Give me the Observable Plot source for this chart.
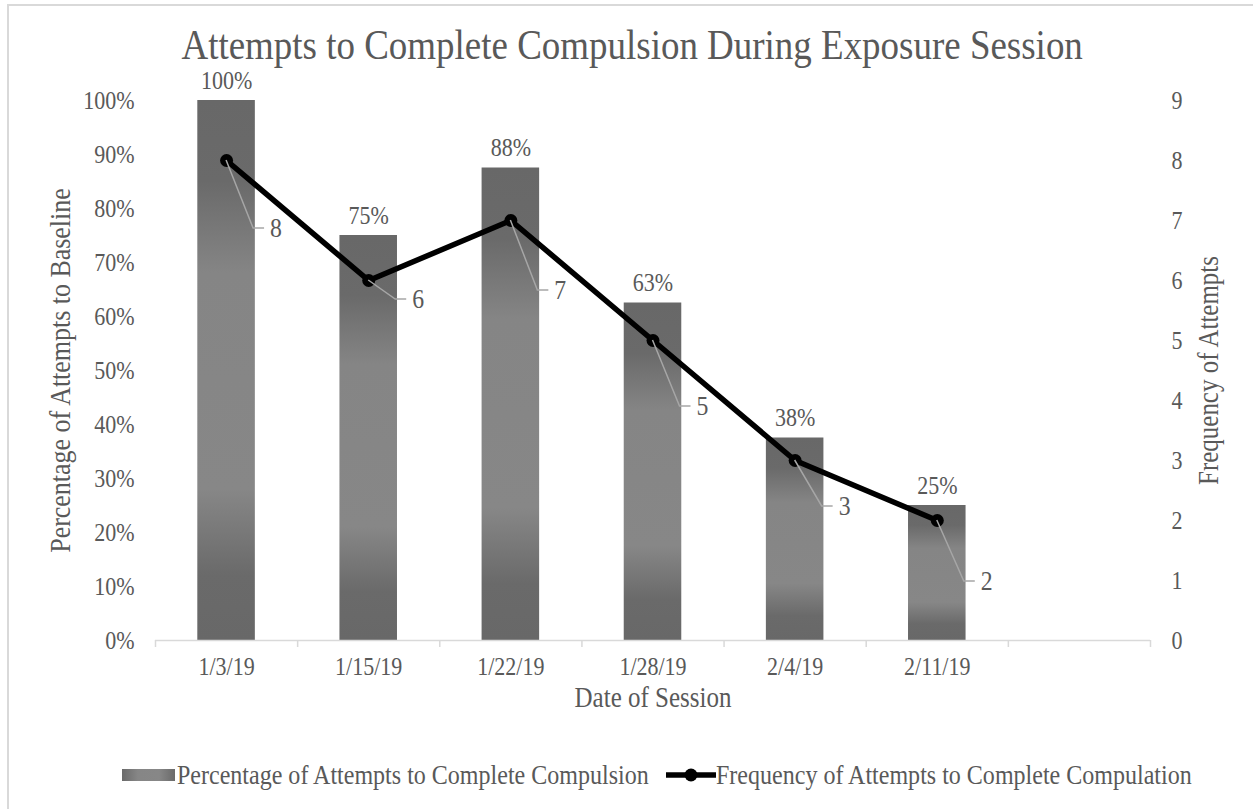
<!DOCTYPE html>
<html><head><meta charset="utf-8">
<script src="https://cdn.jsdelivr.net/npm/d3@7"></script>
<script src="https://cdn.jsdelivr.net/npm/@observablehq/plot@0.6"></script>
<style>
html,body{margin:0;padding:0;background:#fff;overflow:hidden;width:1253px;height:809px}
body{font-family:"Liberation Serif","Times New Roman",serif;color:#595959;position:relative}
#frame{position:absolute;left:7px;top:4px;width:1400px;height:1000px;border:2px solid #d9d9d9;box-sizing:border-box}
#title{position:absolute;left:6px;top:24px;width:1253px;text-align:center;font-size:42px;line-height:42px;white-space:nowrap}
#title span{display:inline-block;transform:scaleX(0.88);transform-origin:center center}
#chart{position:absolute;left:0;top:70px}
#legend{position:absolute;left:0;top:761px;height:28px;width:1253px;font-size:27.3px;line-height:28px;white-space:nowrap}
.item{position:absolute;top:0}
span.item{transform:scaleX(0.88);transform-origin:left center}
</style>
</head><body>
<div id="frame"></div>
<div id="title"><span>Attempts to Complete Compulsion During Exposure Session</span></div>
<div id="chart"></div>
<div id="legend"></div>
<script>
// ---- data ----
const sessionDates = ["1/3/19", "1/15/19", "1/22/19", "1/28/19", "2/4/19", "2/11/19"];
const percentOfBaseline = [1.00, 0.75, 0.875, 0.625, 0.375, 0.25];
const attemptFrequency = [8, 6, 7, 5, 3, 2];
const percentTicks = [0, 0.1, 0.2, 0.3, 0.4, 0.5, 0.6, 0.7, 0.8, 0.9, 1.0];
const frequencyTicks = [0, 1, 2, 3, 4, 5, 6, 7, 8, 9];
const frequencyMax = 9;
const categorySlots = 7; // Excel leaves one empty category at the end
// callout label vertical offsets (px) as placed in the original chart
const calloutOffsets = [68, 19, 70, 66, 46, 61];

const seriesNames = ["Percentage of Attempts to Complete Compulsion", "Frequency of Attempts to Complete Compulation"];

const rows = sessionDates.map((date, i) => ({date, i, pct: percentOfBaseline[i], freq: attemptFrequency[i]}));

const ns = "http://www.w3.org/2000/svg";
const textColor = "#595959";
const font = "'Liberation Serif','Times New Roman',serif";
const condense = 0.88; // the original typeface renders narrower than Liberation Serif

const defs = () => {
  const d = document.createElementNS(ns, "defs");
  d.innerHTML = `
    <linearGradient id="barGrad" x1="0" y1="0" x2="0" y2="1">
      <stop offset="0" stop-color="#686868"/>
      <stop offset="0.15" stop-color="#6a6a6a"/>
      <stop offset="0.32" stop-color="#858585"/>
      <stop offset="0.72" stop-color="#878787"/>
      <stop offset="0.88" stop-color="#6a6a6a"/>
      <stop offset="1" stop-color="#686868"/>
    </linearGradient>`;
  return d;
};

const callouts = (index, scales) => {
  const g = document.createElementNS(ns, "g");
  rows.forEach((r, k) => {
    const px = scales.x(r.i + 0.5), py = scales.y(r.freq / frequencyMax), oy = calloutOffsets[k];
    const p = document.createElementNS(ns, "path");
    p.setAttribute("d", `M${px},${py}L${px + 27},${py + oy}H${px + 38}`);
    p.setAttribute("fill", "none");
    p.setAttribute("stroke", "#a6a6a6");
    p.setAttribute("stroke-width", "1.5");
    g.appendChild(p);
    const t = document.createElementNS(ns, "text");
    t.setAttribute("x", px + 44);
    t.setAttribute("y", py + oy);
    t.setAttribute("dy", "0.35em");
    t.setAttribute("fill", textColor);
    t.setAttribute("font-size", "27");
    t.setAttribute("text-anchor", "start");
    t.textContent = String(r.freq);
    g.appendChild(t);
  });
  return g;
};

const chart = Plot.plot({
  width: 1253,
  height: 660,
  marginTop: 30,
  marginBottom: 90,
  marginLeft: 155,
  marginRight: 103,
  style: {fontFamily: font, fontSize: "25px", color: textColor, background: "transparent", overflow: "visible"},
  x: {type: "linear", domain: [0, categorySlots], axis: null},
  y: {domain: [0, 1], axis: null},
  marks: [
    defs,
    Plot.axisY({anchor: "left", ticks: percentTicks, tickFormat: d => Math.round(d * 100) + "%", tickSize: 0, tickPadding: 21, label: null, fill: textColor}),
    Plot.axisY({anchor: "right", ticks: frequencyTicks.map(k => k / frequencyMax), tickFormat: d => String(Math.round(d * frequencyMax)), tickSize: 0, tickPadding: 21, label: null, fill: textColor}),
    Plot.rectY(rows, {x1: d => d.i, x2: d => d.i + 1, y: "pct", insetLeft: 42.3, insetRight: 42.3, fill: "url(#barGrad)"}),
    Plot.ruleY([0], {stroke: "#d9d9d9", strokeWidth: 1.5}),
    Plot.axisX({ticks: d3.range(0, categorySlots + 1), tickSize: 7, tickFormat: () => "", stroke: "#d9d9d9", strokeWidth: 1.5, label: null}),
    Plot.axisX({ticks: rows.map(r => r.i + 0.5), tickFormat: d => sessionDates[Math.floor(d)], tickSize: 0, tickPadding: 17, label: null, fill: textColor}),
    Plot.text(rows, {x: d => d.i + 0.5, y: "pct", text: d => Math.round(d.pct * 100) + "%", dy: -20, fill: textColor, fontSize: 25}),
    Plot.line(rows, {x: d => d.i + 0.5, y: d => d.freq / frequencyMax, stroke: "#000", strokeWidth: 5.5, strokeLinejoin: "round"}),
    Plot.dot(rows, {x: d => d.i + 0.5, y: d => d.freq / frequencyMax, r: 6.5, fill: "#000", stroke: "none"}),
    callouts,
    Plot.text(["Date of Session"], {frameAnchor: "bottom", dy: 66, fill: textColor, fontSize: 28.4}),
    Plot.text(["Percentage of Attempts to Baseline"], {frameAnchor: "left", textAnchor: "middle", lineAnchor: "middle", dx: -95, rotate: -90, fill: textColor, fontSize: 29.5}),
    Plot.text(["Frequency of Attempts"], {frameAnchor: "right", textAnchor: "middle", lineAnchor: "middle", dx: 58, rotate: -90, fill: textColor, fontSize: 28.4})
  ]
});

// narrow every label horizontally about its own anchor point
chart.querySelectorAll("text").forEach(t => {
  const X = +t.getAttribute("x") || 0, Y = +t.getAttribute("y") || 0;
  const T = t.getAttribute("transform") || "";
  t.setAttribute("transform", `${T} translate(${X},${Y}) scale(${condense},1) translate(${-X},${-Y})`);
});
document.getElementById("chart").appendChild(chart);

// legend
const legend = document.getElementById("legend");
legend.innerHTML = `
  <svg class="item" style="left:122px;top:8px" width="53" height="12">
    <defs><linearGradient id="legGrad" x1="0" x2="1" y1="0" y2="0">
      <stop offset="0" stop-color="#6a6a6a"/><stop offset="0.3" stop-color="#868686"/>
      <stop offset="0.7" stop-color="#878787"/><stop offset="1" stop-color="#6a6a6a"/></linearGradient></defs>
    <rect width="53" height="12" fill="url(#legGrad)"/>
  </svg>
  <span class="item" style="left:177px">${seriesNames[0]}</span>
  <svg class="item" style="left:666px;top:2px" width="50" height="24">
    <line x1="0" x2="50" y1="12" y2="12" stroke="#000" stroke-width="5.5"/>
    <circle cx="25" cy="12" r="6.5" fill="#000"/>
  </svg>
  <span class="item" style="left:716px">${seriesNames[1]}</span>`;
</script>
</body></html>
